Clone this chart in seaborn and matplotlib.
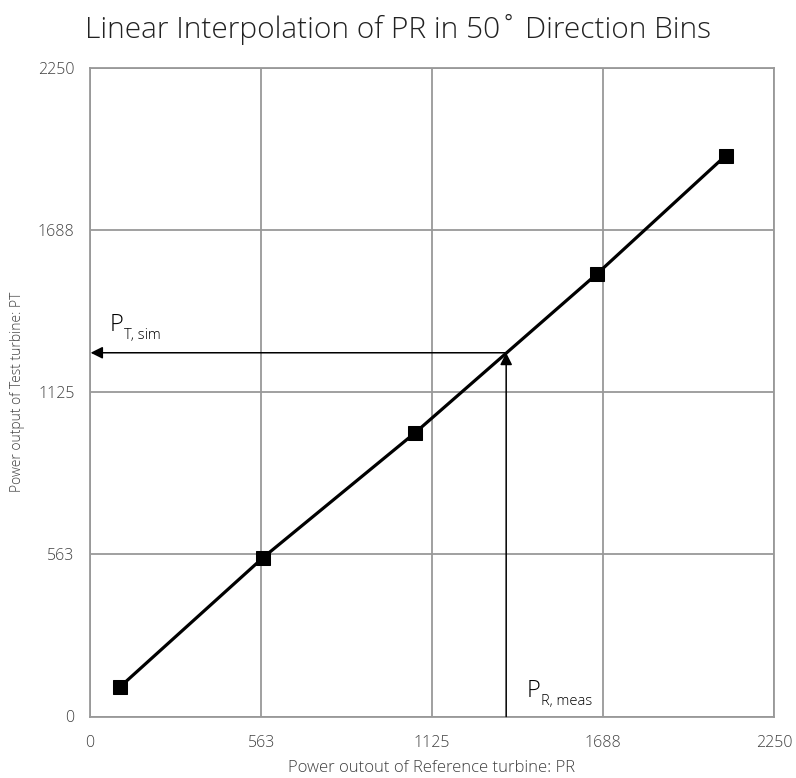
import matplotlib
matplotlib.use("Agg")
import matplotlib.pyplot as plt
from matplotlib import font_manager
import seaborn as sns
import pandas as pd

# Binned power curve: reference turbine vs test turbine
pr_values = [99, 569, 1070, 1668, 2091]
pt_values = [103, 551, 985, 1536, 1946]
tick_values = [0, 563, 1125, 1688, 2250]
tick_labels = ["0", "563", "1125", "1688", "2250"]

# Measured reference power and its interpolated test-turbine power
pr_meas = 1369
pt_sim = 1262

sns.set_style("white")
plt.rcParams["font.family"] = ["Open Sans", "DejaVu Sans"]

# Prefer a light, normal-width cut of Open Sans when one is installed
light_font = None
for entry in font_manager.fontManager.ttflist:
    w = entry.weight if isinstance(entry.weight, int) else 400
    fname = entry.fname.lower()
    if entry.name == "Open Sans" and w <= 300 and entry.style == "normal" \
            and entry.stretch == "normal" and "condensed" not in fname:
        light_font = font_manager.FontProperties(fname=entry.fname)
        break

def thin(size):
    if light_font is not None:
        fp = light_font.copy()
        fp.set_size(size)
        return dict(fontproperties=fp)
    return dict(fontsize=size, fontfamily=["Open Sans", "DejaVu Sans"])

grid_color = "#999999"
text_color = "#404040"

fig = plt.figure(figsize=(7.96, 7.78), dpi=100)
ax = fig.add_axes([90 / 796, 1 - 716.5 / 778, 684 / 796, 648.5 / 778])

df = pd.DataFrame({"PR": pr_values, "PT": pt_values})
sns.lineplot(data=df, x="PR", y="PT", ax=ax, color="black", linewidth=2.3,
             marker="s", markersize=9.5, markeredgecolor="black",
             markerfacecolor="black", zorder=5)

ax.set_xlim(0, 2250)
ax.set_ylim(0, 2250)
ax.set_xticks(tick_values)
ax.set_yticks(tick_values)
ax.set_xticklabels(tick_labels, color=text_color, **thin(11.5))
ax.set_yticklabels(tick_labels, color=text_color, **thin(11.5))
ax.grid(True, color=grid_color, linewidth=1.3)
ax.set_axisbelow(True)
for sp in ax.spines.values():
    sp.set_color(grid_color)
    sp.set_linewidth(1.3)
ax.tick_params(axis="both", direction="out", length=5, width=1.3,
               color=grid_color, pad=6)
ax.tick_params(axis="x", pad=8)

ax.set_xlabel("Power outout of Reference turbine: PR", color=text_color,
              labelpad=7, **thin(12))
ax.set_ylabel("Power output of Test turbine: PT", color=text_color,
              labelpad=9, **thin(10))

fig.text(0.5, 0.962, "Linear Interpolation of PR in 50˚ Direction Bins",
         ha="center", va="center", color="#222222", **thin(21.5))

# Arrows: measured PR up to the curve, then across to the PT axis
arrow = dict(arrowstyle="-|>", color="black", lw=1.1,
             shrinkA=0, shrinkB=0, mutation_scale=18)
ax.annotate("", xy=(pr_meas, pt_sim), xytext=(pr_meas, 0),
            arrowprops=arrow, zorder=4)
ax.annotate("", xy=(2, pt_sim), xytext=(pr_meas, pt_sim),
            arrowprops=arrow, zorder=4)

# Labels with subscripts
ax.text(64, 1338, "P", color="black", ha="left", va="baseline", **thin(17))
ax.text(113, 1310, "T, sim", color="black", ha="left", va="baseline", **thin(10.5))
ax.text(1436, 68, "P", color="black", ha="left", va="baseline", **thin(17))
ax.text(1485, 39, "R, meas", color="black", ha="left", va="baseline", **thin(10.5))

fig.savefig("out.png", dpi=100)
